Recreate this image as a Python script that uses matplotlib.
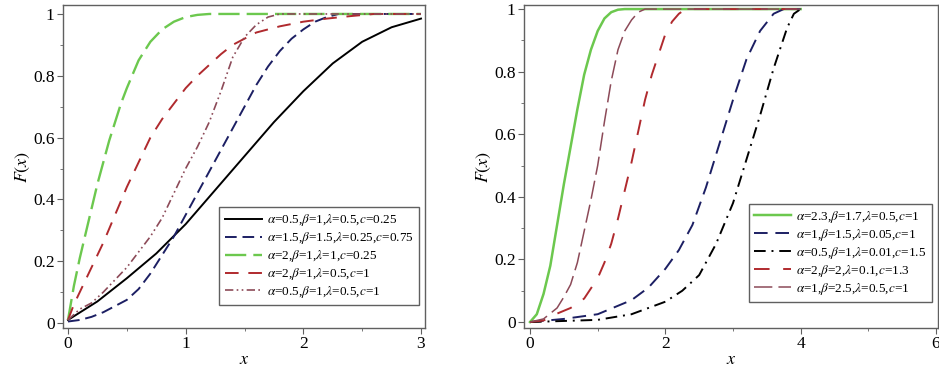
import matplotlib
matplotlib.use("Agg")
import matplotlib.pyplot as plt
from matplotlib.ticker import MultipleLocator

plt.rcParams['font.family'] = ['Liberation Serif', 'DejaVu Serif']
plt.rcParams['mathtext.fontset'] = 'stix'

# ---- left panel data ----
x_black = [0, 0.25, 0.5, 0.75, 1.0, 1.25, 1.5, 1.75, 2.0, 2.25, 2.5, 2.75, 3.0]
y_black = [0.01, 0.07, 0.145, 0.225, 0.32, 0.43, 0.54, 0.65, 0.75, 0.84, 0.91, 0.957, 0.985]

x_blue = [0, 0.1, 0.2, 0.3, 0.4, 0.5, 0.6, 0.7, 0.8, 0.9, 1.0, 1.1, 1.2, 1.3, 1.4,
          1.5, 1.6, 1.7, 1.8, 1.9, 2.0, 2.1, 2.2, 2.3, 2.5, 3.0]
y_blue = [0.005, 0.01, 0.02, 0.035, 0.055, 0.075, 0.11, 0.16, 0.22, 0.28, 0.35, 0.42, 0.49,
          0.56, 0.63, 0.70, 0.77, 0.83, 0.88, 0.92, 0.95, 0.975, 0.99, 1.0, 1.0, 1.0]

x_green = [0, 0.05, 0.1, 0.15, 0.2, 0.25, 0.3, 0.35, 0.4, 0.45, 0.5, 0.6, 0.7, 0.8,
           0.9, 1.0, 1.1, 1.2, 1.4, 3.0]
y_green = [0.01, 0.12, 0.21, 0.29, 0.37, 0.45, 0.52, 0.59, 0.65, 0.71, 0.76, 0.85, 0.91,
           0.95, 0.975, 0.99, 0.997, 1.0, 1.0, 1.0]

x_red = [0, 0.05, 0.1, 0.2, 0.3, 0.4, 0.5, 0.6, 0.7, 0.8, 0.9, 1.0, 1.1, 1.2, 1.3,
         1.4, 1.5, 1.6, 1.8, 2.0, 2.2, 2.4, 2.6, 3.0]
y_red = [0.01, 0.06, 0.10, 0.18, 0.26, 0.35, 0.44, 0.52, 0.60, 0.66, 0.71, 0.76, 0.80,
         0.835, 0.87, 0.90, 0.92, 0.94, 0.96, 0.975, 0.985, 0.993, 1.0, 1.0]

x_mauve = [0, 0.1, 0.2, 0.3, 0.4, 0.5, 0.6, 0.7, 0.8, 0.9, 1.0, 1.1, 1.2, 1.3, 1.4,
           1.5, 1.6, 1.7, 1.8, 2.0, 3.0]
y_mauve = [0.01, 0.045, 0.065, 0.10, 0.14, 0.18, 0.23, 0.28, 0.34, 0.42, 0.50, 0.57, 0.65,
           0.75, 0.86, 0.925, 0.965, 0.99, 1.0, 1.0, 1.0]

labels_left = [
    r'$\alpha$=0.5,$\beta$=1,$\lambda$=0.5,$c$=0.25',
    r'$\alpha$=1.5,$\beta$=1.5,$\lambda$=0.25,$c$=0.75',
    r'$\alpha$=2,$\beta$=1,$\lambda$=1,$c$=0.25',
    r'$\alpha$=2,$\beta$=1,$\lambda$=0.5,$c$=1',
    r'$\alpha$=0.5,$\beta$=1,$\lambda$=0.5,$c$=1',
]

# ---- right panel data ----
xr_green = [0, 0.1, 0.2, 0.3, 0.4, 0.5, 0.6, 0.7, 0.8, 0.9, 1.0, 1.1, 1.2, 1.3, 1.4, 4.0]
yr_green = [0, 0.025, 0.09, 0.18, 0.31, 0.44, 0.56, 0.68, 0.79, 0.87, 0.93, 0.97, 0.99,
            0.998, 1.0, 1.0]

xr_blue = [0, 0.5, 1.0, 1.5, 1.75, 2.0, 2.2, 2.4, 2.6, 2.8, 3.0, 3.2, 3.4, 3.6, 3.75, 4.0]
yr_blue = [0, 0.01, 0.025, 0.07, 0.11, 0.17, 0.23, 0.31, 0.43, 0.57, 0.71, 0.84, 0.93,
           0.985, 1.0, 1.0]

xr_black = [0, 1.0, 1.5, 2.0, 2.25, 2.5, 2.75, 3.0, 3.2, 3.4, 3.6, 3.8, 3.9, 4.0]
yr_black = [0, 0.007, 0.025, 0.065, 0.10, 0.15, 0.25, 0.38, 0.52, 0.66, 0.81, 0.94, 0.985, 1.0]

xr_red = [0, 0.2, 0.4, 0.6, 0.8, 1.0, 1.1, 1.2, 1.3, 1.4, 1.5, 1.6, 1.7, 1.8, 1.9, 2.0,
          2.1, 2.2, 2.3, 4.0]
yr_red = [0, 0.005, 0.027, 0.045, 0.075, 0.14, 0.19, 0.25, 0.33, 0.42, 0.51, 0.61, 0.71,
          0.79, 0.855, 0.92, 0.96, 0.985, 1.0, 1.0]

xr_mauve = [0, 0.2, 0.4, 0.5, 0.6, 0.7, 0.8, 0.9, 1.0, 1.1, 1.2, 1.3, 1.4, 1.5, 1.6, 1.7, 4.0]
yr_mauve = [0, 0.01, 0.045, 0.08, 0.12, 0.19, 0.29, 0.39, 0.50, 0.64, 0.77, 0.87, 0.93,
            0.965, 0.99, 1.0, 1.0]

labels_right = [
    r'$\alpha$=2.3,$\beta$=1.7,$\lambda$=0.5,$c$=1',
    r'$\alpha$=1,$\beta$=1.5,$\lambda$=0.05,$c$=1',
    r'$\alpha$=0.5,$\beta$=1,$\lambda$=0.01,$c$=1.5',
    r'$\alpha$=2,$\beta$=2,$\lambda$=0.1,$c$=1.3',
    r'$\alpha$=1,$\beta$=2.5,$\lambda$=0.5,$c$=1',
]

GREEN = '#6cc84e'
RED = '#b02a2e'
MAUVE = '#8c4a58'
NAVY = '#1c1f63'
BLACK = '#000000'
FRAME = '#606060'

fig = plt.figure(figsize=(9.39, 3.68), dpi=100)
ax1 = fig.add_axes([63 / 939, 40 / 368, 362 / 939, 323 / 368])
ax2 = fig.add_axes([524 / 939, 40 / 368, 414 / 939, 323 / 368])


def style_axes(ax):
    for s in ax.spines.values():
        s.set_color(FRAME)
        s.set_linewidth(1.0)
    ax.tick_params(which='both', direction='out', colors=FRAME, labelcolor='black',
                   labelsize=12.5, top=False, right=False, pad=2)
    ax.tick_params(which='major', length=4)
    ax.tick_params(which='minor', length=2)
    ax.yaxis.set_minor_locator(MultipleLocator(0.1))
    ax.set_yticks([0, 0.2, 0.4, 0.6, 0.8, 1.0])
    ax.set_yticklabels(['0', '0.2', '0.4', '0.6', '0.8', '1'])
    ax.set_xlabel('$x$', fontsize=13, labelpad=-1)
    ax.set_ylabel('$F(x)$', fontsize=13, labelpad=1)


def add_legend(ax, anchor):
    leg = ax.legend(loc='lower right', bbox_to_anchor=anchor, fontsize=9.5,
                    frameon=True, fancybox=False, edgecolor=FRAME, framealpha=1,
                    handlelength=2.8, handletextpad=0.4, labelspacing=0.15,
                    borderpad=0.4, borderaxespad=0)
    leg.get_frame().set_linewidth(1.0)
    return leg


lw = 1.4
ax1.plot(x_black, y_black, color=BLACK, lw=lw, label=labels_left[0])
ax1.plot(x_blue, y_blue, color=NAVY, lw=lw, dashes=(6, 3), label=labels_left[1])
ax1.plot(x_green, y_green, color=GREEN, lw=lw + 0.3, dashes=(9, 3), label=labels_left[2])
ax1.plot(x_red, y_red, color=RED, lw=lw, dashes=(7, 5), label=labels_left[3])
ax1.plot(x_mauve, y_mauve, color=MAUVE, lw=lw - 0.2, dashes=(5, 2, 1, 2, 1, 2),
         label=labels_left[4])
ax1.set_xlim(-0.0425, 3.034)
ax1.set_ylim(-0.016, 1.029)
ax1.xaxis.set_major_locator(MultipleLocator(1))
ax1.xaxis.set_minor_locator(MultipleLocator(0.5))
style_axes(ax1)
add_legend(ax1, (0.983, 0.07))

ax2.plot(xr_green, yr_green, color=GREEN, lw=lw + 0.4, label=labels_right[0])
ax2.plot(xr_blue, yr_blue, color=NAVY, lw=lw, dashes=(7, 4), label=labels_right[1])
ax2.plot(xr_black, yr_black, color=BLACK, lw=lw, dashes=(6, 3, 1, 3), label=labels_right[2])
ax2.plot(xr_red, yr_red, color=RED, lw=lw, dashes=(8, 7), label=labels_right[3])
ax2.plot(xr_mauve, yr_mauve, color=MAUVE, lw=lw - 0.3, dashes=(12, 4), label=labels_right[4])
ax2.set_xlim(-0.089, 6.03)
ax2.set_ylim(-0.019, 1.013)
ax2.xaxis.set_major_locator(MultipleLocator(2))
ax2.xaxis.set_minor_locator(MultipleLocator(1))
style_axes(ax2)
add_legend(ax2, (0.985, 0.08))

fig.savefig('out.png', dpi=100)
